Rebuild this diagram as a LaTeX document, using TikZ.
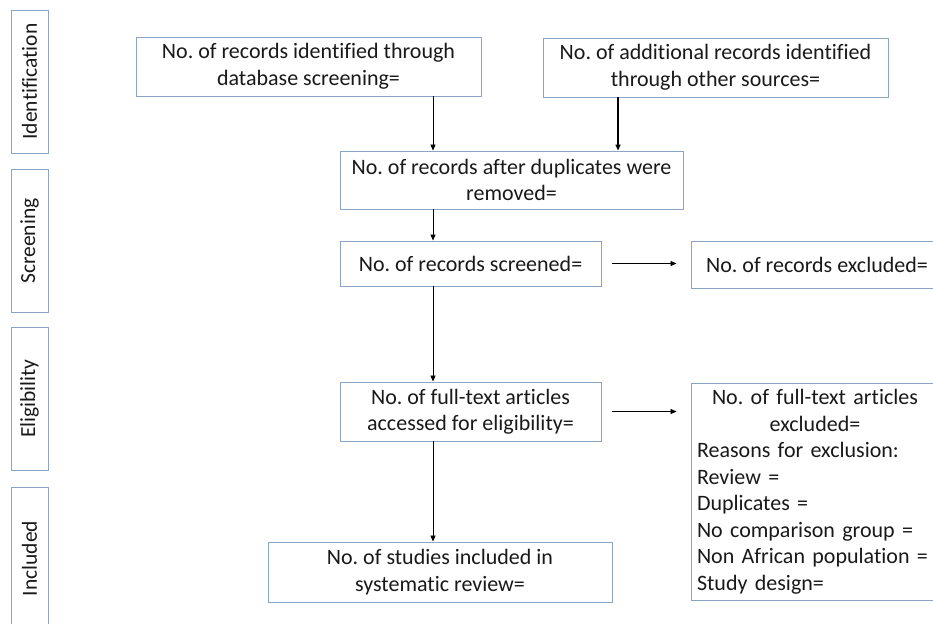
\documentclass[tikz,border=0pt]{standalone}
\usepackage{fontspec}
\setmainfont{Carlito}[Ligatures=NoCommon]
\usetikzlibrary{arrows.meta}
\definecolor{boxline}{RGB}{140,165,198}
\definecolor{txt}{RGB}{25,25,25}
\tikzset{
  flowbox/.style={draw=boxline, line width=0.9pt, rectangle, align=center, inner sep=0pt,
    text=txt, font=\fontsize{22}{26.5}\selectfont\frenchspacing},
  sidebox/.style={draw=boxline, line width=0.9pt, rectangle, inner sep=0pt,
    minimum width=37pt, minimum height=143pt},
  sidelabel/.style={rotate=90, text=txt, font=\fontsize{21.5}{26}\selectfont, inner sep=0pt},
  arr/.style={draw=black, line width=0.8pt, -{Triangle[length=6pt,width=5pt]}},
  arrthick/.style={draw=black, line width=1.6pt, -{Triangle[length=6pt,width=5pt]}}
}
\begin{document}
\begin{tikzpicture}[x=1pt,y=-1pt]
\useasboundingbox (0,0) rectangle (933,623);
\clip (0,0) rectangle (933,623);
% side stage boxes
\node[sidebox] (s1) at (29.5,81.5) {};
\node[sidelabel] (l1) at (s1.center) {Identification};
\node[sidebox] (s2) at (29.5,241) {};
\node[sidelabel] (l2) at (s2.center) {Screening};
\node[sidebox] (s3) at (29.5,398.5) {};
\node[sidelabel] (l3) at (s3.center) {Eligibility};
\node[sidebox] (s4) at (29.5,558.5) {};
\node[sidelabel] (l4) at (s4.center) {Included};
% flow boxes
\node[flowbox, minimum width=345pt, minimum height=59pt] (A) at (308.5,66.5)
  {No. of records identified through\\database screening=};
\node[flowbox, minimum width=345pt, minimum height=59pt] (B) at (715.5,67.5)
  {No. of additional records identified\\through other sources=};
\node[flowbox, minimum width=343pt, minimum height=58pt] (C) at (511.5,180)
  {No. of records after duplicates were\\removed=};
\node[flowbox, minimum width=261pt, minimum height=45pt] (D) at (470.5,263.5)
  {No. of records screened=};
\node[flowbox, minimum width=252pt, minimum height=47pt] (E) at (817,264.5)
  {No. of records excluded=};
\node[flowbox, minimum width=261pt, minimum height=59pt] (F) at (470.5,411.5)
  {No. of full-text articles\\accessed for eligibility=};
\node[flowbox, minimum width=248pt, minimum height=217pt, text width=236pt, align=left] (G) at (815,491.5)
  {\makebox[\linewidth]{No. of full-text articles}\\
   \makebox[\linewidth]{excluded=}\\
   Reasons for exclusion:\\
   Review =\\
   Duplicates =\\
   No comparison group =\\
   Non African population =\\
   Study design=};
\node[flowbox, minimum width=344pt, minimum height=60pt] (H) at (440,572)
  {No. of studies included in\\systematic review=};
% connectors
\draw[arr] (A.south -| 433,0) -- (C.north -| 433,0);
\draw[arrthick] (B.south -| 618,0) -- (C.north -| 618,0);
\draw[arr] (C.south -| 433,0) -- (D.north -| 433,0);
\draw[arr] (D.south -| 433,0) -- (F.north -| 433,0);
\draw[arr] (F.south -| 433,0) -- (H.north -| 433,0);
\draw[arr, shorten <=11pt, shorten >=14pt] (D.east) -- (D.east -| E.west);
\draw[arr, shorten <=11pt, shorten >=14pt] (F.east) -- (F.east -| G.west);
\end{tikzpicture}
\end{document}
